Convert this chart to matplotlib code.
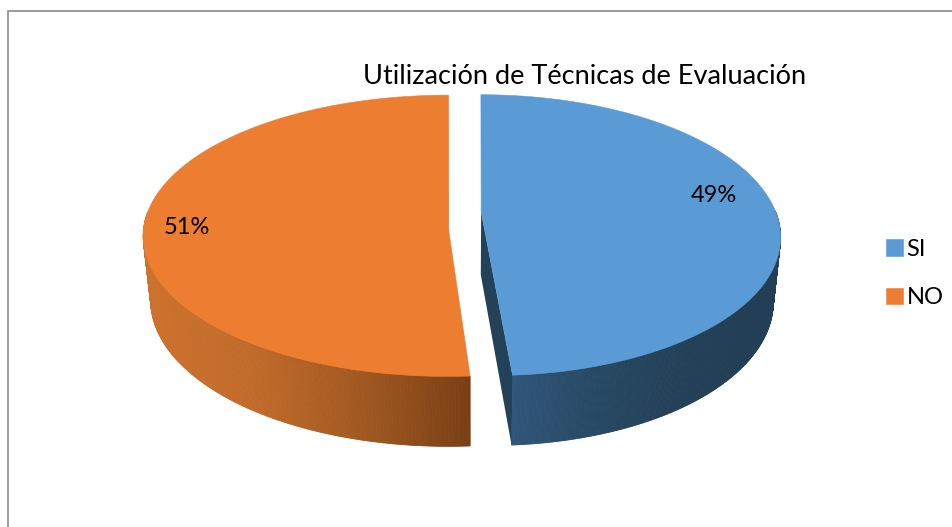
import numpy as np
import matplotlib
matplotlib.use("Agg")
import matplotlib.pyplot as plt
from matplotlib.collections import PolyCollection
from matplotlib.colors import LinearSegmentedColormap
from matplotlib.patches import Polygon

plt.rcParams["font.family"] = ["Lato", "DejaVu Sans"]

title = "Utilización de Técnicas de Evaluación"
labels = ["SI", "NO"]
values = [49, 51]

top_colors = ["#5B9BD5", "#ED7D31"]
face_colors = ["#24415A", "#C26A28"]
wall_colors = [["#30557A", "#274863", "#223F56", "#223F56"],
               ["#CD722D", "#BF6A2A", "#A05820", "#7A3F15"]]
wall_span = [(513, 780), (150, 470)]
apex_shift = [(-0.014, 0.0), (0.0, -0.12)]
label_pos = [(714, 195), (187, 227)]

# pie is a disc seen in perspective, numbers are screen pixels
cx, cy = 464, 212
a, b = 289, 136.6
k = 0.167
explode = 0.068
depth = 63
shrink_x, shrink_y = 0.977, 0.965
# per slice fudge: width scale, x shift and x skew
slice_scale = [1.005, 1.041]
slice_shift = [(1.5, -1.5), (5, -3)]


def project(i, u, v, lower=False):
    w = 1 + k * v
    x = a * slice_scale[i] * u / w
    y = -b * v / w
    dx = slice_shift[i][0] + slice_shift[i][1] * v
    if lower:
        return cx + dx + shrink_x * x, cy + shrink_y * y + depth / w
    return cx + dx + x, cy + y


fig = plt.figure(figsize=(9.53, 5.27), dpi=100)
ax = fig.add_axes([0, 0, 1, 1])
ax.set_xlim(0, 953)
ax.set_ylim(527, 0)
ax.axis("off")

ax.plot([8, 8, 953], [527, 11, 11], color="#8C8C8C", lw=1.2, solid_joinstyle="miter")

angles = np.cumsum([0] + values) / sum(values) * 2 * np.pi
tops = []
for i in range(len(values)):
    start, end = angles[i], angles[i + 1]
    mid = (start + end) / 2
    ou, ov = explode * np.sin(mid), explode * np.cos(mid)
    th = np.linspace(start, end, 481)
    u = ou + np.sin(th)
    v = ov + np.cos(th)

    # outer wall, coloured strip by strip. only the front half shows
    xt, yt = project(i, u, v)
    xb, yb = project(i, u, v, lower=True)
    quads = []
    seg_t = []
    for j in range(len(th) - 1):
        if np.cos(th[j]) > 0 and np.cos(th[j + 1]) > 0:
            continue
        quads.append([(xt[j], yt[j]), (xt[j + 1], yt[j + 1]), (xb[j + 1], yb[j + 1]), (xb[j], yb[j])])
        seg_t.append((xt[j] - wall_span[i][0]) / (wall_span[i][1] - wall_span[i][0]))
    cmap = LinearSegmentedColormap.from_list("wall", wall_colors[i])
    seg_colors = cmap(np.clip(seg_t, 0, 1))
    ax.add_collection(PolyCollection(quads, facecolors=seg_colors, edgecolors=seg_colors, lw=0.6))

    # cut face, the one facing the viewer
    au, av = ou + apex_shift[i][0], ov + apex_shift[i][1]
    ru, rv = ou + np.sin(end), ov + np.cos(end)
    face = [project(i, au, av), project(i, ru, rv), project(i, ru, rv, lower=True), project(i, au, av, lower=True)]
    ax.add_patch(Polygon(face, closed=True, fc=face_colors[i], ec="none"))

    apex = project(i, au, av)
    tops.append((np.r_[xt, apex[0]], np.r_[yt, apex[1]]))

handles = []
for i in range(len(values)):
    h = ax.add_patch(Polygon(np.column_stack(tops[i]), closed=True, fc=top_colors[i],
                             ec=top_colors[i], lw=0.4, label=labels[i]))
    handles.append(h)
    ax.text(label_pos[i][0], label_pos[i][1], f"{values[i]}%", fontsize=17,
            ha="center", va="center", color="black")

ax.text(585, 76, title, fontsize=19.5, ha="center", va="center", color="black")

ax.legend(handles=handles, loc="upper left", bbox_to_anchor=(879 / 953, 1 - 232 / 527),
          frameon=False, fontsize=17, handlelength=0.72, handleheight=0.72,
          handletextpad=0.15, labelspacing=1.15, borderpad=0.3, borderaxespad=0)

fig.savefig("out.png", dpi=100)
